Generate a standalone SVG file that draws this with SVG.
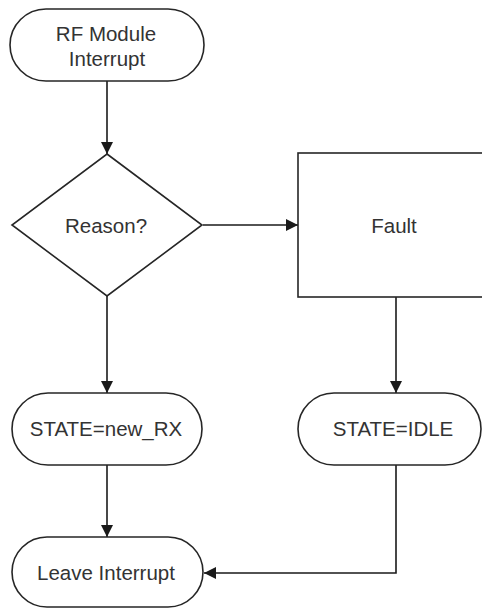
<svg xmlns="http://www.w3.org/2000/svg" width="482" height="609" viewBox="0 0 482 609">
  <style>
    .shape { fill: #ffffff; stroke: #262626; stroke-width: 1.6; }
    .label { font-family: "Liberation Sans", Arial, sans-serif; font-size: 20.5px; fill: #333333; text-anchor: middle; dominant-baseline: central; }
    .edge { fill: none; stroke: #1a1a1a; stroke-width: 1.6; }
  </style>
  <defs>
    <marker id="arrow" viewBox="0 0 12 12" refX="12" refY="6" markerWidth="12" markerHeight="12" markerUnits="userSpaceOnUse" orient="auto">
      <path d="M0,0 L12,6 L0,12 Z" fill="#1a1a1a"/>
    </marker>
  </defs>

  <rect x="0" y="0" width="482" height="609" fill="#ffffff"/>

  <g id="connectors">
    <line class="edge" x1="107" y1="81" x2="107" y2="154" marker-end="url(#arrow)"/>
    <line class="edge" x1="203" y1="225" x2="298" y2="225" marker-end="url(#arrow)"/>
    <line class="edge" x1="107" y1="296" x2="107" y2="393" marker-end="url(#arrow)"/>
    <line class="edge" x1="396" y1="297" x2="396" y2="393" marker-end="url(#arrow)"/>
    <line class="edge" x1="107" y1="465" x2="107" y2="537" marker-end="url(#arrow)"/>
    <polyline class="edge" points="396,465 396,573 204,573" marker-end="url(#arrow)"/>
  </g>

  <g id="rf-module-interrupt">
    <rect class="shape" x="10" y="9" width="194" height="72" rx="36" ry="36"/>
    <text class="label" x="106" y="33">RF Module</text>
    <text class="label" x="107" y="58">Interrupt</text>
  </g>

  <g id="reason">
    <polygon class="shape" points="107,154 202,225 107,296 12,225"/>
    <text class="label" x="106" y="225">Reason?</text>
  </g>

  <g id="fault">
    <rect class="shape" x="298" y="153" width="196" height="144"/>
    <text class="label" x="394" y="225">Fault</text>
  </g>

  <g id="state-new-rx">
    <rect class="shape" x="12" y="393" width="190" height="72" rx="36" ry="36"/>
    <text class="label" x="106" y="428">STATE=new_RX</text>
  </g>

  <g id="state-idle">
    <rect class="shape" x="298" y="393" width="183" height="72" rx="36" ry="36"/>
    <text class="label" x="393" y="428">STATE=IDLE</text>
  </g>

  <g id="leave-interrupt">
    <rect class="shape" x="12" y="537" width="191" height="70" rx="35" ry="35"/>
    <text class="label" x="106" y="572">Leave Interrupt</text>
  </g>
</svg>
